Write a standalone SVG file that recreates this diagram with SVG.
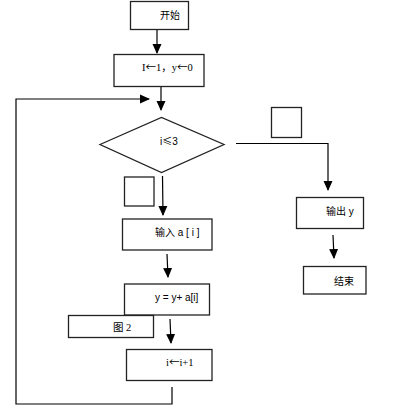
<svg xmlns="http://www.w3.org/2000/svg" width="400" height="413" viewBox="0 0 400 413">
<style>
.box{fill:#fff;stroke:#222;stroke-width:1.3}
.ln{fill:none;stroke:#000;stroke-width:1.2}
.t{font-family:"Liberation Sans","Noto Sans CJK SC",sans-serif;font-size:10px;fill:#000}
.s{font-family:"Liberation Serif","Noto Sans CJK SC",serif;font-size:10.5px;fill:#000}
.c{font-family:"Noto Sans CJK SC",sans-serif}
</style>
<defs>
<marker id="ah" markerWidth="10" markerHeight="10" refX="9" refY="5" orient="auto" markerUnits="userSpaceOnUse">
<path d="M0,0.5 L10,5 L0,9.5 Z" fill="#000"/>
</marker>
</defs>
<rect width="400" height="413" fill="#fff"/>
<g id="connectors">
<line class="ln" x1="157" y1="29" x2="157" y2="53" marker-end="url(#ah)"/>
<line class="ln" x1="161" y1="87" x2="161" y2="110" marker-end="url(#ah)"/>
<polyline class="ln" points="172,387 172,404 16,404 16,99 149,99" marker-end="url(#ah)"/>
<polyline class="ln" points="236,143.5 328,143.5 328,190" marker-end="url(#ah)"/>
<line class="ln" x1="333" y1="235" x2="334" y2="258" marker-end="url(#ah)"/>
<line class="ln" x1="162.5" y1="176" x2="163" y2="215" marker-end="url(#ah)"/>
<line class="ln" x1="167" y1="254" x2="168" y2="277" marker-end="url(#ah)"/>
<line class="ln" x1="170" y1="319" x2="171" y2="343" marker-end="url(#ah)"/>
</g>
<g id="start"><rect class="box" x="130.5" y="1.5" width="58" height="28"/><text class="t" x="160" y="18.5">开始</text></g>
<g id="init"><rect class="box" x="114" y="54.5" width="90" height="32"/><text class="s" x="142" y="71">I<tspan class="c">←</tspan>1，y<tspan class="c">←</tspan>0</text></g>
<g id="cond"><polygon class="box" points="100,144.5 161.5,117.5 224,144.5 161.5,172.5"/><text class="t" x="160" y="145">i<tspan class="c">≤</tspan>3</text></g>
<g id="blank1"><rect class="box" x="271.5" y="107.5" width="30" height="30"/></g>
<g id="blank2"><rect class="box" x="124.5" y="177" width="29.5" height="29"/></g>
<g id="output"><rect class="box" x="296.5" y="197.5" width="67" height="31"/><text class="t" x="326" y="214.5">输出 y</text></g>
<g id="end"><rect class="box" x="303.5" y="266.5" width="62.5" height="27.5"/><text class="t" x="334" y="284.5">结束</text></g>
<g id="input"><rect class="box" x="122.5" y="219" width="89.5" height="31"/><text class="t" x="155" y="236">输入 a [ i ]</text></g>
<g id="sum"><rect class="box" x="124.5" y="284" width="85" height="31"/><text class="t" x="155" y="300.5">y = y+ a[i]</text></g>
<g id="fig"><rect class="box" x="68.5" y="315.5" width="85" height="22"/><text class="s" x="113" y="331">图 2</text></g>
<g id="inc"><rect class="box" x="126.5" y="349.5" width="85.5" height="31"/><text class="s" x="166" y="365.5">i<tspan class="c">←</tspan>i+1</text></g>
</svg>
